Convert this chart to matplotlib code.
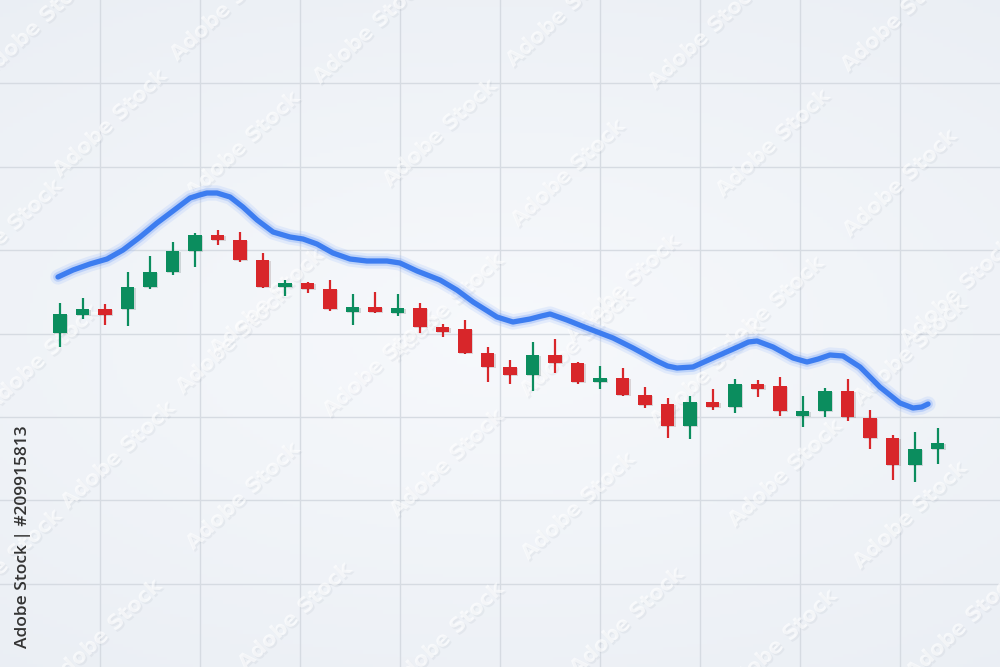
import numpy as np
import matplotlib
matplotlib.use("Agg")
import matplotlib.pyplot as plt
import matplotlib.patheffects as pe

# Kerzen: Eröffnung, Hoch, Tief, Schluss
opens = [33.4, 35.2, 35.8, 35.8, 38.0, 39.5, 41.6, 43.2, 42.7, 40.7,
         38.0, 38.4, 37.8, 35.5, 36.0, 35.4, 35.9, 34.0, 33.8, 31.4,
         30.0, 29.2, 31.2, 30.4, 28.5, 28.9, 27.2, 26.3, 24.1, 26.5,
         26.0, 28.3, 28.1, 25.1, 25.6, 27.6, 24.9, 22.9, 20.2, 21.8]
highs = [36.4, 36.9, 36.3, 39.5, 41.1, 42.5, 43.4, 43.7, 43.5, 41.4,
         38.7, 38.5, 38.7, 37.3, 37.5, 37.3, 36.4, 34.3, 34.7, 32.0,
         30.7, 32.5, 32.8, 30.5, 30.1, 29.9, 28.0, 26.9, 27.1, 27.8,
         28.8, 28.7, 29.0, 27.1, 27.9, 28.8, 25.7, 23.2, 23.5, 23.9]
lows = [32.0, 34.8, 34.2, 34.1, 37.8, 39.2, 40.0, 42.2, 40.5, 37.9,
        37.1, 37.4, 35.6, 34.2, 35.4, 35.1, 33.4, 33.0, 31.3, 28.5,
        28.3, 27.6, 29.4, 28.3, 27.8, 27.1, 25.9, 22.9, 22.8, 25.7,
        25.4, 27.0, 25.1, 24.0, 25.0, 24.6, 21.8, 18.7, 18.5, 20.3]
closes = [35.3, 35.8, 35.2, 38.0, 39.5, 41.6, 43.2, 42.7, 40.7, 38.0,
          38.4, 37.8, 35.8, 36.0, 35.5, 35.9, 34.0, 33.5, 31.4, 30.0,
          29.2, 31.2, 30.4, 28.5, 28.9, 27.2, 26.2, 24.1, 26.5, 26.0,
          28.3, 27.8, 25.6, 25.6, 27.6, 25.0, 22.9, 20.2, 21.8, 22.4]

# blaue Linie (x in Kerzen-Index)
line_x = [-0.09, 0.58, 1.33, 2.09, 2.8, 3.56, 4.31, 5.02, 5.78, 6.2, 6.53,
          6.98, 7.56, 8.13, 8.76, 9.47, 10.22, 10.8, 11.42, 12.13, 12.89,
          13.64, 14.53, 15.11, 15.87, 16.89, 17.64, 18.36, 19.0, 19.42, 20.13, 20.89,
          21.4, 21.78, 22.53, 23.42, 24.58, 25.47, 26.53, 27.0, 27.42, 28.13, 29.02, 30.22,
          30.6, 30.98, 31.69, 32.58, 33.2, 33.7, 34.22, 34.8, 35.56, 36.44, 37.33, 37.91, 38.3, 38.58]
line_y = [39.0, 39.7, 40.3, 40.8, 41.7, 43.0, 44.4, 45.6, 46.9, 47.2, 47.4,
          47.4, 47.0, 46.0, 44.7, 43.5, 43.0, 42.8, 42.3, 41.4, 40.8,
          40.6, 40.6, 40.4, 39.6, 38.7, 37.7, 36.5, 35.6, 35.0, 34.5, 34.8,
          35.1, 35.3, 34.7, 33.9, 32.9, 31.9, 30.6, 30.1, 29.9, 30.0, 30.9, 32.1,
          32.5, 32.6, 32.0, 30.9, 30.5, 30.8, 31.2, 31.1, 30.0, 28.0, 26.4, 25.9, 26.0, 26.3]

# Wasserzeichen-Mittelpunkte (Pixel im Bild)
wm_px = [37, 227, 370, 563, 705, 898,
         110, 243, 440, 568, 773, 900,
         5, 267, 447, 623, 767, 957,
         42, 233, 380, 577, 707, 910,
         118, 243, 447, 578, 785, 910,
         5, 105, 295, 447, 627, 780, 963]
wm_py = [25, 7, 30, 13, 35, 18,
         123, 145, 133, 173, 143, 183,
         233, 302, 307, 288, 310, 292,
         358, 340, 363, 343, 373, 351,
         455, 496, 463, 506, 473, 515,
         563, 633, 616, 636, 621, 643, 625]

GREEN = "#0b8d5e"
RED = "#d8262a"
BLUE = "#3d7df0"

fig = plt.figure(figsize=(10, 6.67), dpi=100)
ax = fig.add_axes([0, 0, 1, 1])
x0, x1 = -60 / 22.5, 940 / 22.5
y0, y1 = 0, 66.7
ax.set_xlim(x0, x1)
ax.set_ylim(y0, y1)
ax.axis("off")

# Hintergrund mit leichtem Verlauf
gx, gy = np.meshgrid(np.linspace(-1, 1, 300), np.linspace(-1, 1, 200))
r = np.clip(np.sqrt(gx ** 2 * 0.6 + gy ** 2), 0, 1.4)
c_in = np.array([0.968, 0.976, 0.988])
c_out = np.array([0.915, 0.932, 0.955])
bg = c_in[None, None, :] + (c_out - c_in)[None, None, :] * (r[..., None] / 1.4)
ax.imshow(bg, extent=[x0, x1, y0, y1], aspect="auto", zorder=0)

# Gitter
for k in range(1, 10):
    ax.axvline((100 * k - 60) / 22.5, color="#d6dbe2", lw=1.0, zorder=1)
for k in range(1, 8):
    ax.axhline(66.7 - 8.3375 * k, color="#d6dbe2", lw=1.0, zorder=1)

# Wasserzeichen: weiss mit weichem Schatten, sehr blass
wm = [pe.SimplePatchShadow(offset=(1.2, -1.2), shadow_rgbFace="#9aa3b1", alpha=0.12),
      pe.Normal()]
for px, py in zip(wm_px, wm_py):
    ax.text((px - 60) / 22.5, 66.7 - py / 10, "Adobe Stock", rotation=43,
            fontsize=15, fontweight="bold", color="white", alpha=0.6,
            ha="center", va="center", rotation_mode="anchor",
            path_effects=wm, zorder=2)

# Kerzen
idx = np.arange(len(opens))
o = np.array(opens)
c = np.array(closes)
cols = [GREEN if cc >= oo else RED for oo, cc in zip(o, c)]
shadow = [pe.SimplePatchShadow(offset=(1, -1), alpha=0.15), pe.Normal()]
ax.vlines(idx, lows, highs, colors=cols, lw=1.6, zorder=3)
bars = ax.bar(idx, np.abs(c - o), bottom=np.minimum(o, c), width=0.62,
              color=cols, zorder=4)
for b in bars:
    b.set_path_effects(shadow)

# blaue Linie mit Leuchten
ax.plot(line_x, line_y, color="#8fb4ff", lw=11, alpha=0.18,
        solid_capstyle="round", solid_joinstyle="round", zorder=5)
ax.plot(line_x, line_y, color="#6f9ef8", lw=7, alpha=0.3,
        solid_capstyle="round", solid_joinstyle="round", zorder=5)
ax.plot(line_x, line_y, color=BLUE, lw=3.8,
        solid_capstyle="round", solid_joinstyle="round", zorder=6)

# Senkrechter Text am Rand
fig.text(0.023, 0.195, "Adobe Stock | #209915813", rotation=90,
         fontsize=12.5, family=["Open Sans", "DejaVu Sans"], fontweight="semibold",
         color="#333333", ha="center", va="center")

fig.savefig("out.png", dpi=100)
